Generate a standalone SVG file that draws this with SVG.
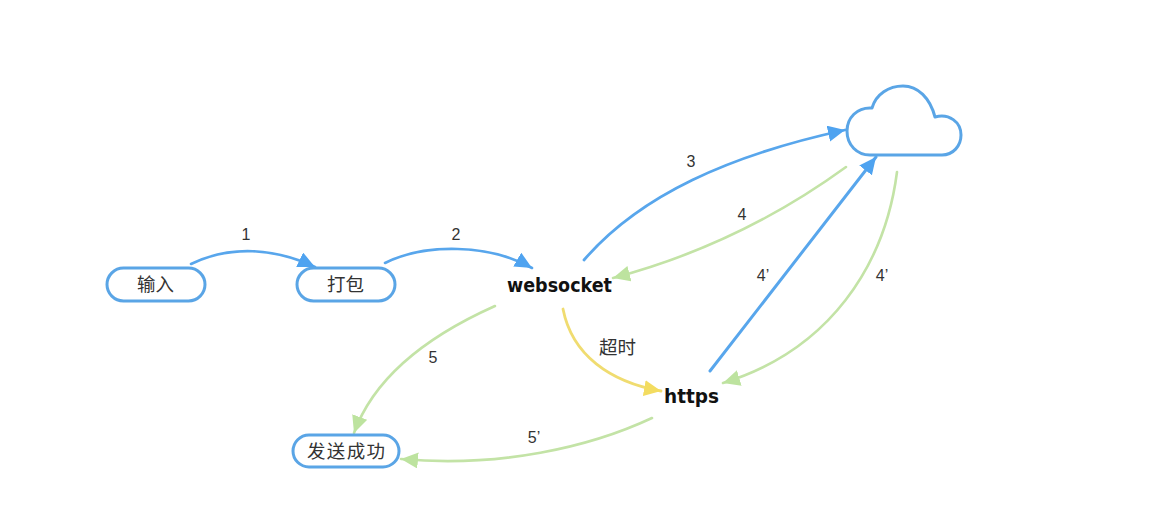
<svg xmlns="http://www.w3.org/2000/svg" width="1166" height="530" viewBox="0 0 1166 530">
<defs>
<style>
.n{fill:#fff;stroke:#5aa5e6;stroke-width:3}
.c{fill:none;stroke-linecap:round}
.b{stroke:#58a6ec}
.g{stroke:#c3e3a6;stroke-width:2.6}
.y{stroke:#f0dc70;stroke-width:2.8}
text{font-family:"Liberation Sans","Noto Sans CJK SC",sans-serif;fill:#333}
.l{font-size:16px;text-anchor:middle}
.z{font-size:18.5px;text-anchor:middle}
.h{font-family:"DejaVu Sans","Noto Sans",sans-serif;font-weight:700;font-size:19px;fill:#111}
</style>
<marker id="mb" markerUnits="userSpaceOnUse" markerWidth="20" markerHeight="18" refX="17" refY="8" orient="auto"><path d="M0 0L17 8L0 16Z" fill="#4fa3f0"/></marker>
<marker id="mg" markerUnits="userSpaceOnUse" markerWidth="20" markerHeight="18" refX="17" refY="8" orient="auto"><path d="M0 0L17 8L0 16Z" fill="#bde39f"/></marker>
<marker id="my" markerUnits="userSpaceOnUse" markerWidth="20" markerHeight="18" refX="17" refY="8" orient="auto"><path d="M0 0L17 8L0 16Z" fill="#f3dc60"/></marker>
</defs>
<rect width="1166" height="530" fill="#fff"/>
<g id="connectors">
<path class="c b" stroke-width="2.6" marker-end="url(#mb)" d="M191 264C230 245 275 248 315 267"/>
<path class="c b" stroke-width="2.6" marker-end="url(#mb)" d="M385 263C425 243 490 244 532 268"/>
<path class="c b" stroke-width="2.8" marker-end="url(#mb)" d="M584 260C640 195 730 155 845 130"/>
<path class="c g" marker-end="url(#mg)" d="M846 167C780 215 700 255 613 278"/>
<path class="c b" stroke-width="3" marker-end="url(#mb)" d="M710 371L876 157"/>
<path class="c g" marker-end="url(#mg)" d="M897 172C885 265 830 350 723 383"/>
<path class="c y" marker-end="url(#my)" d="M563 309C572 355 610 382 661 391"/>
<path class="c g" marker-end="url(#mg)" d="M495 306C430 335 375 375 354 433"/>
<path class="c g" marker-end="url(#mg)" d="M652 418C590 447 500 468 401 459"/>
</g>
<g id="node-input"><rect class="n" x="107" y="268" width="98" height="33" rx="16.5"/><text class="z" x="155.500" y="291">输入</text></g>
<g id="node-pack"><rect class="n" x="297" y="268" width="98" height="33" rx="16.500"/><text class="z" x="345.500" y="291">打包</text></g>
<g id="node-success"><rect class="n" x="293" y="435" width="106" height="32" rx="16"/><text class="z" x="346" y="458" textLength="78">发送成功</text></g>
<g id="node-websocket"><text class="h" x="507" y="292" textLength="105" lengthAdjust="spacingAndGlyphs">websocket</text></g>
<g id="node-https"><text class="h" x="664" y="403" textLength="55" lengthAdjust="spacingAndGlyphs">https</text></g>
<g id="node-cloud"><path fill="#fff" stroke="#5aa5e6" stroke-width="3" stroke-linejoin="round" d="M870 155H942C953 155 961 146 961 135C961 122 949 113 935 117C930 98 918 86 903 86C889 86 876 94 872 108C857 107 847 118 847 131C847 145 857 155 870 155Z"/></g>
<g id="labels">
<text class="l" x="246" y="240">1</text>
<text class="l" x="456" y="240">2</text>
<text class="l" x="691" y="167">3</text>
<text class="l" x="742" y="220">4</text>
<text class="l" x="763" y="281">4’</text>
<text class="l" x="882" y="281">4’</text>
<text class="l" x="433" y="363">5</text>
<text class="l" x="534" y="443">5’</text>
<text class="z" x="617.500" y="354">超时</text>
</g>
</svg>
